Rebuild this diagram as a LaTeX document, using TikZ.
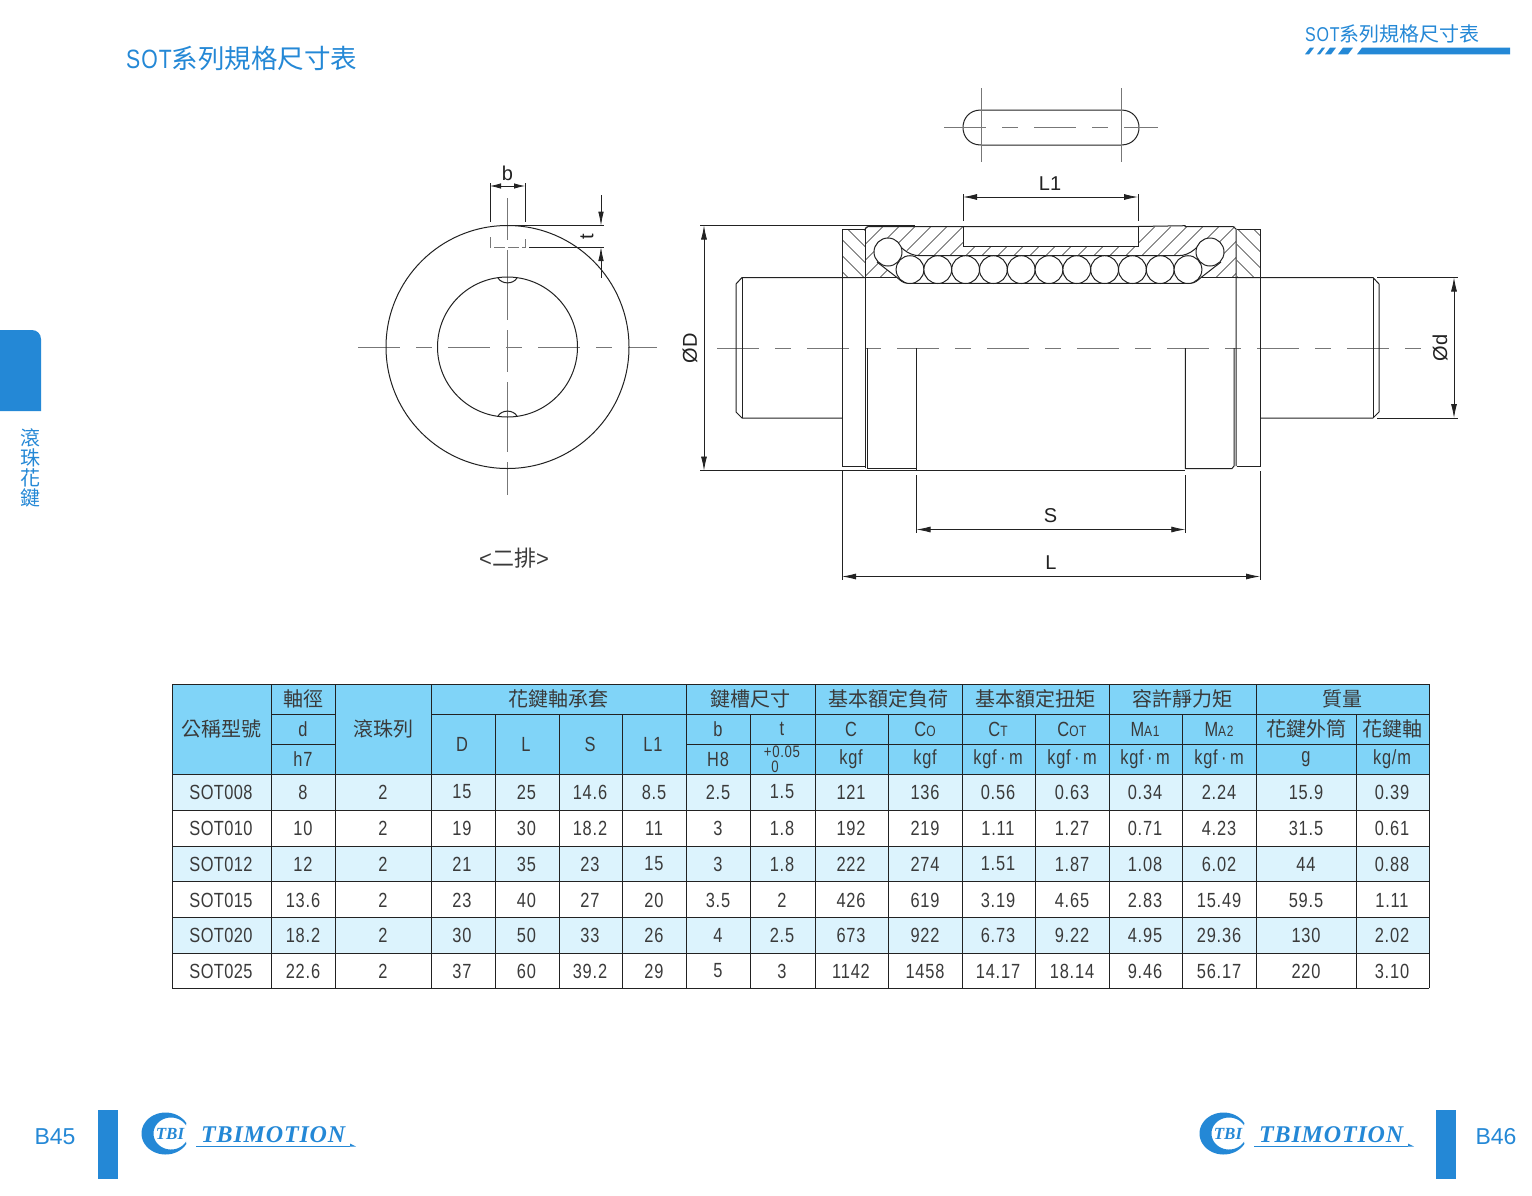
\documentclass[tikz,border=0pt]{standalone}
\usepackage{fontspec}
\usetikzlibrary{arrows.meta}
\newfontfamily\cjk{Noto Sans CJK TC}
\newfontfamily\nar[FakeStretch=0.8,LetterSpace=4]{Liberation Sans}
\newfontfamily\narb[FakeStretch=0.8,LetterSpace=2]{Liberation Sans}
\newfontfamily\sans{Liberation Sans}
\newfontfamily\ser[LetterSpace=3.5]{Liberation Serif}
\newfontfamily\serb{Liberation Serif}
\newcommand{\fs}[1]{\fontsize{#1}{#1}\selectfont}
\newcommand{\smc}[1]{{\fs{15}#1}}
\newcommand{\kgm}{kgf\,·\,m}
\definecolor{ink}{HTML}{222222}
\definecolor{cline}{HTML}{777777}
\definecolor{brand}{HTML}{2488D6}
\definecolor{head}{HTML}{80D4F8}
\definecolor{band}{HTML}{DCF3FD}
\definecolor{txt}{HTML}{3A3A3A}
\tikzset{
  part/.style={draw=ink,line width=1pt},
  thin part/.style={draw=ink,line width=0.7pt},
  hatch/.style={draw=ink,line width=0.6pt},
  centre/.style={draw=cline,line width=0.9pt,dash pattern=on 42pt off 16pt on 16pt off 16pt},
  dimarrow/.style={draw=ink,line width=0.8pt,{Latex[length=14pt,width=6pt]}-{Latex[length=14pt,width=6pt]}},
  ext/.style={draw=ink,line width=0.8pt},
  dimtext/.style={inner sep=0pt,text=ink,font=\sans\fs{20}},
  grid/.style={draw=ink,line width=1pt},
  cell/.style={inner sep=0pt,text=txt,font=\nar\fs{20.5}},
  hcell/.style={inner sep=0pt,text=txt,font=\cjk\fs{20}},
  bluetext/.style={inner sep=0pt,text=brand},
}
\begin{document}
\begin{tikzpicture}[x=1pt,y=-1pt]
\useasboundingbox (0,0) rectangle (1532,1195);
\fill[white] (0,0) rectangle (1532,1195);

% --- page furniture
\node[bluetext,anchor=west] (title) at (126,58) {\fs{26.5}{\nar SOT}{\cjk 系列規格尺寸表}};
\node[bluetext,anchor=west] (runhead) at (1305,33.5) {\fs{20}{\nar SOT}{\cjk 系列規格尺寸表}};
\fill[brand] (1357,54.3) -- (1362,47.7) -- (1510,47.7) -- (1510,54.3) -- cycle;
\foreach \a/\b in {1305/1309,1317/1320,1325/1331,1338/1348}
  \fill[brand] (\a,54.3) -- (\a+5,47.7) -- (\b+5,47.7) -- (\b,54.3) -- cycle;
\fill[brand] (0,330) -- (32,330) .. controls (37,330) and (41,334) .. (41,339) -- (41,411) -- (0,411) -- cycle;
\foreach \c/\yy in {滾/438,珠/458,花/478,鍵/498}
  \node[bluetext,font=\cjk\fs{20}] (side\yy) at (30.5,\yy) {\c};

% --- footer left
\node[bluetext,font=\sans\fs{23}] (pageL) at (55,1137) {B45};
\fill[brand] (98,1110) rectangle (118,1179);
\fill[brand] plot[domain=30:330,samples=50] ({165.5+24*cos(\x)},{1133.5+21*sin(\x)})
  -- plot[domain=330:30,samples=50] ({171+17.5*cos(\x)},{1133.5+16*sin(\x)}) -- cycle;
\node[bluetext,font=\serb\bfseries\itshape\fs{17}] (tbiL) at (170,1134) {TBI};
\node[bluetext,font=\ser\bfseries\itshape\fs{24},anchor=west] (motionL) at (201,1135) {TBIMOTION};
\fill[brand] (196,1145.5) rectangle (350,1146.6);
\fill[brand] (350,1143.5) -- (356,1146.6) -- (350,1146.6) -- cycle;

% --- footer right
\node[bluetext,font=\sans\fs{23}] (pageR) at (1496,1137) {B46};
\fill[brand] (1436,1110) rectangle (1456,1179);
\fill[brand] plot[domain=30:330,samples=50] ({1223.5+24*cos(\x)},{1133.5+21*sin(\x)})
  -- plot[domain=330:30,samples=50] ({1229+17.5*cos(\x)},{1133.5+16*sin(\x)}) -- cycle;
\node[bluetext,font=\serb\bfseries\itshape\fs{17}] (tbiR) at (1228,1134) {TBI};
\node[bluetext,font=\ser\bfseries\itshape\fs{24},anchor=west] (motionR) at (1259,1135) {TBIMOTION};
\fill[brand] (1254,1145.5) rectangle (1408,1146.6);
\fill[brand] (1408,1143.5) -- (1414,1146.6) -- (1408,1146.6) -- cycle;

% --- end view
\draw[centre] (358,347) -- (657,347);
\draw[draw=cline,line width=0.9pt,dash pattern=on 42pt off 10pt on 70pt off 10pt] (507.5,198) -- (507.5,495);
\draw[part] (507.5,347) circle[radius=121.5];
\draw[part] (507.5,347) circle[radius=70];
\draw[part] (498,278) .. controls (502,284.5) and (513,284.5) .. (517,278);
\draw[part] (498,416) .. controls (502,409.5) and (513,409.5) .. (517,416);
\draw[draw=cline,line width=0.9pt,dash pattern=on 11pt off 3pt] (490,237) -- (490,247) -- (525,247) -- (525,237);
\draw[ext] (490,183) -- (490,222);
\draw[ext] (525,183) -- (525,222);
\draw[draw=ink,line width=0.8pt,{Latex[length=11pt,width=5.5pt]}-{Latex[length=11pt,width=5.5pt]}] (490,186) -- (525,186);
\node[dimtext] (bl) at (507.5,173) {b};
\draw[ext] (507,225.7) -- (604,225.7);
\draw[ext] (529,247) -- (604,247);
\draw[draw=ink,line width=0.8pt,-{Latex[length=14pt,width=5.5pt]}] (601,195) -- (601,225.7);
\draw[draw=ink,line width=0.8pt,-{Latex[length=14pt,width=5.5pt]}] (601,278) -- (601,247);
\node[dimtext,rotate=90] (tl) at (587,236.5) {t};
\node[inner sep=0pt,text=txt] (rows) at (514,558) {\fs{22}{\sans<}{\cjk 二排}{\sans>}};

% --- key plan
\draw[part] (981,110) -- (1121,110) .. controls (1145,110) and (1145,145) .. (1121,145) -- (981,145) .. controls (957,145) and (957,110) .. (981,110) -- cycle;
\draw[centre] (944,127.5) -- (1158,127.5);
\draw[thin part,draw=cline] (981,88) -- (981,162);
\draw[thin part,draw=cline] (1121,88) -- (1121,162);

% --- hatching
\begin{scope}
\clip (865,226.5) -- (963,226.5) -- (963,246.5) -- (1138,246.5) -- (1138,226.5) -- (1236,226.5) -- (1236,277.5)
  -- (1201,277.5) -- (1221,262) -- (1224,252) -- (1221,242) -- (1205,240) -- (1185,255.7) -- (913,255.7) -- (893,240)
  -- (877,242) -- (874,252) -- (877,262) -- (897,277.5) -- (865,277.5) -- cycle;
\foreach \a in {816,832,...,1240}
  \draw[hatch] (\a,277.5) -- (\a+51,226.5);
\end{scope}
\begin{scope}
\clip (842,229.5) rectangle (865,277.5);
\foreach \a in {800,816,...,870}
  \draw[hatch] (\a,229.5) -- (\a+48,277.5);
\end{scope}
\begin{scope}
\clip (1237,229.5) rectangle (1260,277.5);
\foreach \a in {1190,1206,...,1270}
  \draw[hatch] (\a,229.5) -- (\a+48,277.5);
\end{scope}

% --- axis
\draw[centre] (717,348) -- (1425,348);

% --- bearing body
\draw[part] (865,229) -- (868,226.5) -- (963,226.5);
\draw[part] (963,226.5) -- (963,246.5) -- (1138,246.5) -- (1138,226.5);
\draw[part] (963,226.5) -- (1138,226.5) -- (1185,225.7) -- (1185,226.5) -- (1233,226.5) -- (1236,229) -- (1236,466);
\draw[part] (865,229) -- (865,468);
\draw[part] (865,229.5) -- (842,229.5) -- (842,466) -- (865,466);
\draw[part] (1237,229.3) -- (1260,229.3) -- (1260,466) -- (1237,466);
\draw[part] (867.5,348) -- (867.5,468) -- (916.5,468);
\draw[part] (916.5,348) -- (916.5,470.5) -- (1185.3,470.5);
\draw[part] (1185.3,348) -- (1185.3,468.5) -- (1232,468.5) -- (1234,466) -- (1234,348);

% --- shaft
\draw[part] (865,277.5) -- (742,277.5) -- (736,284) -- (736,412) -- (742,418) -- (842,418);
\draw[part] (742,277.5) -- (742,418);
\draw[part] (1236,277.5) -- (1373,277.5) -- (1379,284) -- (1379,412) -- (1373,418) -- (1260,418);
\draw[part] (1373,277.5) -- (1373,418);
\draw[part] (897,277.5) -- (865,277.5);
\draw[part] (1201,277.5) -- (1236,277.5);

% --- balls and channel
\fill[white] (897,277.5) -- (877,262) -- (877,242) -- (893,240) -- (913,255.7) -- (1185,255.7) -- (1205,240) -- (1221,242) -- (1221,262) -- (1201,277.5) -- (1193,283.3) -- (905,283.3) -- cycle;
\draw[part] (893,240) .. controls (900,245) and (906,255.7) .. (920,255.7) -- (1178,255.7) .. controls (1192,255.7) and (1198,245) .. (1205,240);
\draw[part] (877,262) -- (897,277.5) .. controls (900,280) and (903,283.3) .. (908,283.3) -- (1190,283.3) .. controls (1195,283.3) and (1198,280) .. (1201,277.5) -- (1221,262);
\foreach \bx in {910,937.8,965.6,993.4,1021.2,1049,1076.8,1104.6,1132.4,1160.2,1188}
  \draw[part,fill=white] (\bx,269.6) circle[radius=13.9];
\draw[part,fill=white] (888,252) circle[radius=14];
\draw[part,fill=white] (1210,252) circle[radius=14];

% --- dimensions
\draw[ext] (700,225.5) -- (915,225.5);
\draw[ext] (700,470.5) -- (916,470.5);
\draw[dimarrow] (704,225.5) -- (704,470.5);
\node[dimtext,rotate=90] (dD) at (690,348) {ØD};
\draw[ext] (1377,277.5) -- (1458,277.5);
\draw[ext] (1377,418) -- (1458,418);
\draw[dimarrow] (1454,277.5) -- (1454,418);
\node[dimtext,rotate=90] (dd) at (1440,348) {Ød};
\draw[ext] (963,194) -- (963,221);
\draw[ext] (1138,194) -- (1138,221);
\draw[dimarrow] (963,197) -- (1138,197);
\node[dimtext] (dL1) at (1050,184) {L1};
\draw[ext] (916.5,475) -- (916.5,533);
\draw[ext] (1185.3,475) -- (1185.3,533);
\draw[dimarrow] (916.5,529.5) -- (1185.3,529.5);
\node[dimtext] (dS) at (1050.5,515.5) {S};
\draw[ext] (842,471) -- (842,580);
\draw[ext] (1260,471) -- (1260,580);
\draw[dimarrow] (842,576.5) -- (1260,576.5);
\node[dimtext] (dL) at (1051,563) {L};

% --- table fills
\fill[head] (172,684) rectangle (1429,774);
\fill[band] (172,774) rectangle (1429,810);
\fill[band] (172,846) rectangle (1429,881);
\fill[band] (172,917) rectangle (1429,953);

% --- table grid
\foreach \yy in {774,810,846,881,917,953,988,684}
  \draw[grid] (172,\yy) -- (1429,\yy);
\foreach \xx in {172,271,335,431,686,815,962,1109,1256,1429}
  \draw[grid] (\xx,684) -- (\xx,988);
\foreach \xx in {495,559,622,750,888,1035,1182,1356}
  \draw[grid] (\xx,714) -- (\xx,988);
\foreach \aa/\bb in {271/335,431/1429}
  \draw[grid] (\aa,714) -- (\bb,714);
\foreach \aa/\bb in {271/335,686/1429}
  \draw[grid] (\aa,744) -- (\bb,744);

% --- table header
\node[hcell] (h01) at (221.5,729) {公稱型號};
\node[hcell] (h02) at (303,699) {軸徑};
\node[cell]  (h03) at (303,729) {d};
\node[cell]  (h04) at (303,759) {h7};
\node[hcell] (h05) at (383,729) {滾珠列};
\node[hcell] (h06) at (558,699) {花鍵軸承套};
\node[hcell] (h07) at (750,699) {鍵槽尺寸};
\node[hcell] (h08) at (888,699) {基本額定負荷};
\node[hcell] (h09) at (1035,699) {基本額定扭矩};
\node[hcell] (h10) at (1182,699) {容許靜力矩};
\node[hcell] (h11) at (1342,699) {質量};
\node[cell]  (h12) at (462,744) {D};
\node[cell]  (h13) at (526,744) {L};
\node[cell]  (h14) at (590,744) {S};
\node[cell]  (h15) at (653,744) {L1};
\node[cell]  (h16) at (718,729) {b};
\node[cell]  (h17) at (782,729) {t};
\node[cell]  (h18) at (718,759) {H8};
\node[cell,font=\nar\fs{16.5}] (h19) at (782,752) {+0.05};
\node[cell,font=\nar\fs{16.5}] (h20) at (775,767) {0};
\node[cell]  (h21) at (851,729) {C};
\node[cell]  (h22) at (925,729) {C\smc{O}};
\node[cell]  (h23) at (998,729) {C\smc{T}};
\node[cell]  (h24) at (1072,729) {C\smc{OT}};
\node[cell]  (h25) at (1145,729) {M\smc{A1}};
\node[cell]  (h26) at (1219,729) {M\smc{A2}};
\node[hcell] (h27) at (1306,729) {花鍵外筒};
\node[hcell] (h28) at (1392,729) {花鍵軸};
\node[cell]  (h29) at (851,759) {kgf};
\node[cell]  (h30) at (925,759) {kgf};
\node[cell]  (h31) at (998,759) {\kgm};
\node[cell]  (h32) at (1072,759) {\kgm};
\node[cell]  (h33) at (1145,759) {\kgm};
\node[cell]  (h34) at (1219,759) {\kgm};
\node[cell]  (h35) at (1306,759) {g};
\node[cell]  (h36) at (1392,759) {kg/m};

% --- table body
\foreach \yy/\model/\vals in {
  792/SOT008/{8,2,15,25,14.6,8.5,2.5,1.5,121,136,0.56,0.63,0.34,2.24,15.9,0.39},
  828/SOT010/{10,2,19,30,18.2,11,3,1.8,192,219,1.11,1.27,0.71,4.23,31.5,0.61},
  864/SOT012/{12,2,21,35,23,15,3,1.8,222,274,1.51,1.87,1.08,6.02,44,0.88},
  900/SOT015/{13.6,2,23,40,27,20,3.5,2,426,619,3.19,4.65,2.83,15.49,59.5,1.11},
  935/SOT020/{18.2,2,30,50,33,26,4,2.5,673,922,6.73,9.22,4.95,29.36,130,2.02},
  971/SOT025/{22.6,2,37,60,39.2,29,5,3,1142,1458,14.17,18.14,9.46,56.17,220,3.10}}{
  \node[cell,font=\narb\fs{20.5}] (m\yy) at (221,\yy) {\model};
  \foreach \v [count=\i] in \vals {
    \pgfmathsetmacro{\cx}{{303,383,462,526.5,590,654,718,782,851,925,998,1072,1145,1219,1306,1392}[\i-1]}
    \node[cell] (d\yy-\i) at (\cx,\yy) {\v};
  }
}
\end{tikzpicture}
\end{document}
